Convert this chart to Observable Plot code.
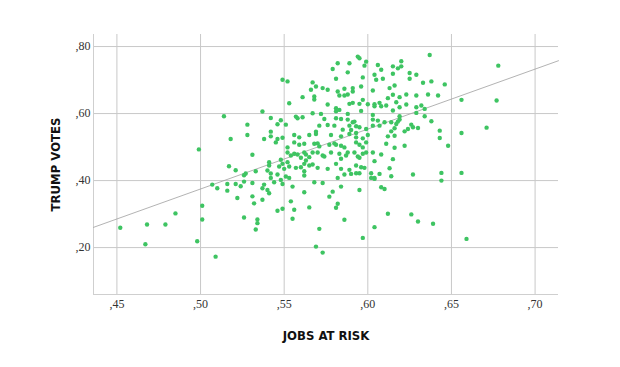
<!DOCTYPE html>
<html><head><meta charset="utf-8">
<script src="https://cdn.jsdelivr.net/npm/d3@7"></script>
<script src="https://cdn.jsdelivr.net/npm/@observablehq/plot@0.6"></script>
<style>body{margin:0;background:#fff}</style>
</head><body><div id="chart"></div>
<script>
const jobsAtRisk = [
0.452,0.468,0.467,0.479,0.485,0.549,0.537,0.514,0.542,0.548,0.528,0.546,0.542,0.528,0.542,0.546,0.549,0.545,0.538,0.518,0.499,0.531,
0.594,0.595,0.599,0.598,0.582,0.589,0.579,0.588,0.606,0.608,0.604,0.581,0.597,0.605,0.609,0.552,0.567,0.569,0.566,0.573,0.576,0.582,
0.586,0.591,0.596,0.603,0.583,0.586,0.591,0.588,0.568,0.568,0.561,0.576,0.553,0.589,0.591,0.597,0.595,0.600,0.604,0.604,0.607,0.608,
0.581,0.581,0.583,0.588,0.567,0.572,0.596,0.557,0.558,0.561,0.574,0.581,0.584,0.588,0.591,0.592,0.603,0.603,0.606,0.610,0.551,0.571,
0.576,0.580,0.585,0.589,0.590,0.593,0.595,0.599,0.603,0.607,0.569,0.569,0.565,0.556,0.559,0.578,0.584,0.589,0.593,0.593,0.597,0.600,
0.556,0.559,0.562,0.568,0.570,0.571,0.577,0.580,0.581,0.584,0.586,0.593,0.595,0.597,0.599,0.552,
0.552,0.554,0.556,0.558,0.560,0.562,0.563,0.565,0.567,0.570,0.573,0.574,0.578,0.583,0.584,0.587,0.588,0.592,0.594,0.595,0.597,0.599,
0.603,0.608,0.552,0.553,0.557,0.560,0.562,0.563,0.565,0.567,0.570,0.576,0.581,0.584,0.586,0.589,0.590,0.593,0.593,0.595,0.596,0.598,
0.602,0.604,0.604,0.607,0.562,0.562,0.551,0.553,0.568,0.573,0.582,0.555,0.584,0.595,0.602,0.604,0.608,0.610,0.562,0.579,0.577,0.554,
0.582,0.581,0.565,0.556,0.555,0.586,0.571,0.604,0.597,0.569,0.573,
0.517,0.521,0.526,0.527,0.533,0.540,0.541,0.541,0.542,0.548,0.549,0.547,0.546,0.550,0.542,0.544,0.548,0.549,0.507,0.510,0.516,0.516,
0.521,0.524,0.526,0.531,0.538,0.537,0.540,0.541,0.522,0.531,0.532,0.537,0.546,0.549,0.501,0.501,0.526,0.534,0.534,0.533,0.498,0.509,
0.637,0.620,0.615,0.618,0.620,0.625,0.629,0.625,0.615,0.638,0.633,0.646,0.616,0.613,0.636,0.642,0.629,0.623,0.619,0.615,0.612,0.656,
0.617,0.623,0.619,0.629,0.632,0.611,0.634,0.615,0.629,0.619,0.619,0.634,0.614,0.617,0.618,0.638,0.626,0.627,0.630,0.624,0.622,0.616,
0.614,0.643,0.656,0.671,0.616,0.612,0.643,0.611,0.622,0.616,0.648,
0.615,0.613,0.614,0.627,0.644,0.656,0.644,0.612,0.626,0.630,0.639,0.659,0.678,0.677
];
const trumpVotes = [
0.259,0.269,0.210,0.269,0.302,0.701,0.606,0.592,0.587,0.580,0.567,0.568,0.546,0.536,0.532,0.524,0.528,0.514,0.524,0.524,0.493,0.477,
0.770,0.765,0.755,0.743,0.750,0.750,0.733,0.723,0.745,0.731,0.716,0.704,0.708,0.701,0.704,0.696,0.693,0.681,0.671,0.676,0.671,0.666,
0.674,0.676,0.681,0.669,0.654,0.654,0.666,0.657,0.651,0.642,0.649,0.627,0.631,0.629,0.632,0.641,0.629,0.628,0.628,0.622,0.632,0.622,
0.616,0.607,0.611,0.599,0.601,0.599,0.608,0.591,0.586,0.589,0.584,0.586,0.584,0.582,0.574,0.576,0.596,0.582,0.579,0.574,0.567,0.564,
0.566,0.564,0.552,0.564,0.551,0.562,0.559,0.554,0.564,0.564,0.546,0.539,0.536,0.536,0.529,0.536,0.532,0.539,0.542,0.529,0.526,0.536,
0.514,0.507,0.510,0.510,0.511,0.502,0.507,0.511,0.507,0.504,0.499,0.514,0.507,0.499,0.514,0.499,
0.484,0.475,0.480,0.478,0.468,0.484,0.478,0.470,0.484,0.484,0.475,0.472,0.484,0.480,0.465,0.475,0.484,0.484,0.472,0.468,0.480,0.484,
0.484,0.478,0.455,0.442,0.438,0.440,0.450,0.460,0.445,0.448,0.438,0.435,0.450,0.435,0.418,0.432,0.420,0.445,0.422,0.422,0.440,0.438,
0.422,0.458,0.408,0.420,0.428,0.415,0.412,0.408,0.395,0.393,0.408,0.382,0.382,0.372,0.408,0.405,0.380,0.375,0.365,0.367,0.352,0.338,
0.331,0.319,0.320,0.313,0.286,0.283,0.256,0.261,0.229,0.203,0.185,
0.443,0.431,0.416,0.421,0.428,0.430,0.445,0.455,0.421,0.462,0.450,0.442,0.418,0.435,0.408,0.395,0.402,0.390,0.388,0.377,0.390,0.370,
0.390,0.383,0.397,0.393,0.388,0.377,0.372,0.362,0.348,0.353,0.332,0.343,0.310,0.316,0.325,0.284,0.290,0.284,0.273,0.254,0.219,0.173,
0.775,0.756,0.741,0.735,0.741,0.721,0.716,0.704,0.719,0.696,0.692,0.687,0.684,0.676,0.657,0.654,0.654,0.657,0.649,0.656,0.646,0.641,
0.634,0.627,0.619,0.619,0.624,0.624,0.614,0.609,0.602,0.592,0.582,0.592,0.574,0.569,0.576,0.577,0.567,0.559,0.557,0.554,0.547,0.556,
0.547,0.549,0.542,0.558,0.534,0.532,0.527,0.510,0.504,0.498,0.504,
0.464,0.437,0.413,0.418,0.423,0.423,0.400,0.301,0.299,0.278,0.271,0.226,0.743,0.639
];
const xTicks = [0.45, 0.50, 0.55, 0.60, 0.65, 0.70];
const yTicks = [0.20, 0.40, 0.60, 0.80];
const xDomain = [0.436, 0.714];
const yDomain = [0.06, 0.836];
const fitIntercept = -0.5196;
const fitSlope = 1.789;

const points = jobsAtRisk.map((x, i) => ({x, y: trumpVotes[i]}));
const fitLine = xDomain.map(x => ({x, y: fitIntercept + fitSlope * x}));
const fmt = d => "," + d3.format(".2f")(d).slice(2);
const condensed = "'DejaVu Sans Condensed', 'DejaVu Sans', sans-serif";

const chart = Plot.plot({
  width: 620, height: 367,
  marginLeft: 93, marginRight: 62, marginTop: 34, marginBottom: 73,
  x: {domain: xDomain},
  y: {domain: yDomain},
  style: {fontFamily: "'Liberation Serif', 'DejaVu Serif', serif", background: "#fff"},
  marks: [
    Plot.gridX(xTicks, {stroke: "#c8c8c8", strokeOpacity: 1}),
    Plot.gridY(yTicks, {stroke: "#c8c8c8", strokeOpacity: 1}),
    Plot.ruleX([xDomain[0]], {stroke: "#cfcfcf"}),
    Plot.ruleY([yDomain[0]], {stroke: "#cfcfcf"}),
    Plot.line(fitLine, {x: "x", y: "y", stroke: "#a0a0a0", strokeWidth: 0.8}),
    Plot.dot(points, {x: "x", y: "y", r: 2.2, fill: "#3ec462", stroke: "none"}),
    Plot.axisX(xTicks, {tickSize: 0, tickPadding: 5, tickFormat: fmt, fontSize: 12, fill: "#333", label: null}),
    Plot.axisY(yTicks, {tickSize: 0, tickPadding: 3, tickFormat: fmt, fontSize: 12, fill: "#333", label: null}),
    Plot.text(["JOBS AT RISK"], {frameAnchor: "bottom", dy: 41, textAnchor: "middle", lineAnchor: "middle", fontSize: 13, fontWeight: "bold", fontFamily: condensed, fill: "#111"}),
    Plot.text(["TRUMP VOTES"], {frameAnchor: "left", dx: -38, rotate: -90, textAnchor: "middle", lineAnchor: "middle", fontSize: 13, fontWeight: "bold", fontFamily: condensed, fill: "#111"})
  ]
});
document.getElementById("chart").appendChild(chart);
</script>
</body></html>
